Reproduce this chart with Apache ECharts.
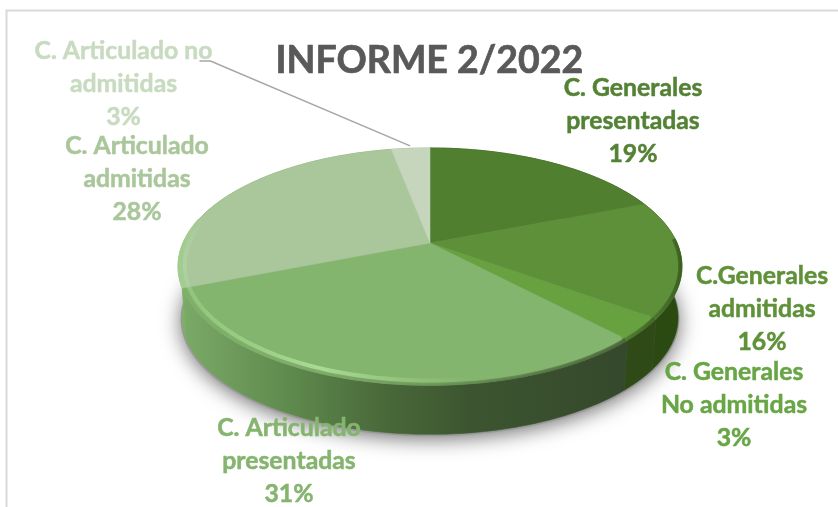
<!DOCTYPE html>
<html><head><meta charset="utf-8">
<style>html,body{margin:0;padding:0;background:#fff}#c{width:838px;height:507px}</style>
<script src="https://cdn.jsdelivr.net/npm/echarts@6/dist/echarts.min.js"></script>
</head><body><div id="c"></div>
<script>
const chartTitle = 'INFORME 2/2022';
const categories = ['C. Generales\npresentadas','C.Generales\nadmitidas','C. Generales\nNo admitidas','C. Articulado\npresentadas','C. Articulado\nadmitidas','C. Articulado no\nadmitidas'];
const values = [19,16,3,31,28,3];

const topColors = ['#4f7f2f','#5e9039','#68a240','#84b56e','#a9c79a','#c5d6bd'];
const labelColors = ['#548235','#5f9138','#68a544','#85b46f','#a9c79b','#c8dbc0'];
const labelCenters = [[633,121],[762,309],[734,405],[289,461],[137,179],[123.5,84]];
const FONT = '"Lato","Carlito","Open Sans",sans-serif';

// projection of the tilted disc
const CX=430, CY=243, A=247, B=113.9, K=0.198, DEPTH=52;
const total = values.reduce((a,b)=>a+b,0);
function proj(deg, r, dz){
  const t=deg*Math.PI/180, x=r*Math.sin(t), y=r*Math.cos(t), w=1+K*y;
  return [CX+A*x/w, CY-B*y/w+(dz||0)];
}
function startDeg(i){ let s=0; for(let k=0;k<i;k++) s+=values[k]; return s/total*360; }
function arc(a0,a1,r,dz){
  const pts=[], n=Math.max(2,Math.ceil((a1-a0)/1.5));
  for(let i=0;i<=n;i++) pts.push(proj(a0+(a1-a0)*i/n,r,dz));
  return pts;
}
const G=(x0,x1,stops)=>new echarts.graphic.LinearGradient(x0,0,x1,0,stops.map(s=>({offset:(s[0]-x0)/(x1-x0),color:s[1]})),true);
const sideStops=[
 [[178,'#2c4a12'],[682,'#2c4a12']],
 [[178,'#2b4a12'],[682,'#2b4a12']],
 [[178,'#2f4a17'],[682,'#2f4a17']],
 [[178,'#7cab68'],[280,'#618d50'],[380,'#4a6a3a'],[470,'#3c5530'],[630,'#35482b']],
 [[178,'#7fb06a'],[200,'#7cab68']],
 [[178,'#7fb06a'],[682,'#7fb06a']]
];
// rim: angular window per slice, inner highlight and outer edge colours by x
const rimWindow=[[0,0],[88,126],[126,137],[137,248.4],[248.4,282],[0,0]];
const rimHigh=[
 [[178,'#4f7f2f'],[682,'#4f7f2f']],
 [[178,'#5e9039'],[682,'#5e9039']],
 [[178,'#68a240'],[682,'#68a240']],
 [[178,'#8fc47a'],[250,'#98cf83'],[320,'#a8da93'],[400,'#93c47c'],[470,'#84b56e'],[630,'#84b56e']],
 [[178,'#b0d4a0'],[190,'#acce9e'],[205,'#a9c79a']],
 [[178,'#c5d6bd'],[682,'#c5d6bd']]
];
const rimEdge=[
 [[178,'#4f7f2f'],[682,'#4f7f2f']],
 [[640,'#547f33'],[682,'#3a6020']],
 [[625,'#4f7a2f'],[655,'#3f6824']],
 [[178,'#7fb06a'],[320,'#7fa96a'],[430,'#6c9458'],[520,'#587a47'],[630,'#4a6538']],
 [[178,'#9fce8b'],[190,'#a5cb93'],[205,'#a9c79a']],
 [[178,'#c5d6bd'],[682,'#c5d6bd']]
];

function renderSide(p,api){
  const i=p.dataIndex, a0=startDeg(i), a1=a0+api.value(0)/total*360;
  const pts=arc(a0,a1,1,0).concat(arc(a0,a1,0.985,DEPTH).reverse());
  const f=G(178,682,sideStops[i]);
  return {type:'polygon',shape:{points:pts},style:{fill:f,stroke:f,lineWidth:0.6}};
}
function renderTop(p,api){
  const i=p.dataIndex, a0=startDeg(i), a1=a0+api.value(0)/total*360;
  const pts=[proj(0,0,0)].concat(arc(a0,a1,1,0));
  return {type:'polygon',shape:{points:pts},style:{fill:topColors[i],stroke:topColors[i],lineWidth:0.5}};
}
function renderRim(p,api){
  const i=p.dataIndex, w=rimWindow[i];
  if(w[1]<=w[0]) return {type:'group',children:[]};
  return {type:'group',children:[
    {type:'polyline',shape:{points:arc(w[0],w[1],0.993,0)},style:{fill:null,stroke:G(178,682,rimEdge[i]),lineWidth:4,lineCap:'butt'}},
    {type:'polyline',shape:{points:arc(w[0],w[1],0.974,0)},style:{fill:null,stroke:G(178,682,rimHigh[i]),lineWidth:4,lineCap:'butt',shadowBlur:3,shadowColor:topColors[i]}}
  ]};
}
function renderLabel(p,api){
  const i=p.dataIndex, v=api.value(0), c=labelCenters[i], ch=[];
  ch.push({type:'text',style:{text:categories[i]+'\n'+v+'%',x:c[0],y:c[1],align:'center',verticalAlign:'middle',font:'bold 24.8px '+FONT,fill:labelColors[i],stroke:labelColors[i],lineWidth:0.5,lineHeight:33}});
  if(i===5){
    const a=startDeg(i)+v/total*180, end=proj(a,1.03,0);
    ch.push({type:'polyline',shape:{points:[[c[0]+76,61],[c[0]+87,61],end]},style:{fill:null,stroke:'#a6a6a6',lineWidth:1.5}});
  }
  return {type:'group',children:ch};
}
const data=values.map((v,i)=>({value:v,name:categories[i]}));
const mk=(fn,z)=>({type:'custom',coordinateSystem:'none',renderItem:fn,data,z,silent:true,animation:false,clip:false});
const chart=echarts.init(document.getElementById('c'),null,{renderer:'canvas'});
chart.setOption({
  animation:false,backgroundColor:'#fff',
  title:{text:chartTitle,left:270.5,top:37,textStyle:{fontFamily:FONT,fontWeight:'bold',fontSize:37.5,color:'#595959',textBorderColor:'#595959',textBorderWidth:0.7}},
  graphic:[
    {type:'polyline',shape:{points:[[6.5,507],[6.5,10.5],[838,10.5]]},style:{fill:null,stroke:'#d9d9d9',lineWidth:2},z:0},
    {type:'polygon',shape:{points:arc(0,360,0.99,DEPTH+1)},style:{fill:'#999',shadowBlur:20,shadowColor:'rgba(0,0,0,0.55)',shadowOffsetY:3},z:1}
  ],
  series:[mk(renderSide,2),mk(renderTop,3),mk(renderRim,4),mk(renderLabel,6)]
});
</script></body></html>
